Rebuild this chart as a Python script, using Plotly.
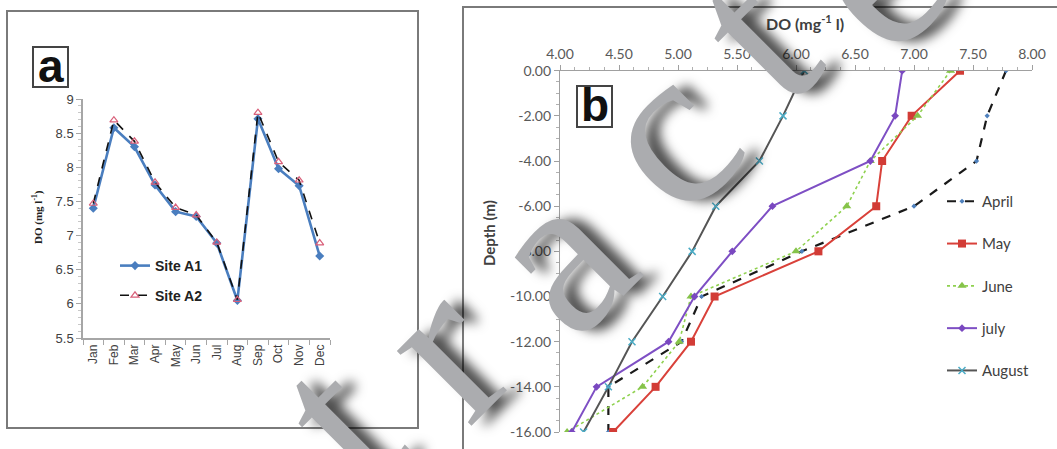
import plotly.graph_objects as go

W, H = 1057, 449

# ---- panel (a): monthly dissolved oxygen at two sites ----
months = ["Jan", "Feb", "Mar", "Apr", "May", "Jun",
          "Jul", "Aug", "Sep", "Oct", "Nov", "Dec"]
site_a1 = [7.40, 8.58, 8.30, 7.74, 7.35, 7.28, 6.89, 6.05, 8.71, 7.98, 7.73, 6.70]
site_a2 = [7.47, 8.69, 8.38, 7.78, 7.41, 7.30, 6.90, 6.06, 8.80, 8.08, 7.81, 6.89]

# ---- panel (b): DO depth profiles by month ----
depth = [0, -2, -4, -6, -8, -10, -12, -14, -16]
do_april = [7.78, 7.62, 7.53, 7.00, 6.05, 5.20, 5.03, 4.41, 4.41]
do_may = [7.39, 6.98, 6.73, 6.68, 6.19, 5.31, 5.11, 4.81, 4.45]
do_june = [7.31, 7.03, 6.63, 6.43, 6.00, 5.11, 5.01, 4.70, 4.06]
do_july = [6.90, 6.84, 6.63, 5.80, 5.46, 5.14, 4.92, 4.31, 4.10]
do_august = [6.07, 5.89, 5.69, 5.32, 5.12, 4.87, 4.61, 4.41, 4.20]

a_yticks = [5.5, 6, 6.5, 7, 7.5, 8, 8.5, 9]
a_yticklabels = ["5.5", "6", "6.5", "7", "7.5", "8", "8.5", "9"]
b_xticks = [4.0, 4.5, 5.0, 5.5, 6.0, 6.5, 7.0, 7.5, 8.0]
b_xticklabels = ["4.00", "4.50", "5.00", "5.50", "6.00", "6.50", "7.00", "7.50", "8.00"]
b_yticks = [0, -2, -4, -6, -8, -10, -12, -14, -16]
b_yticklabels = ["0.00", "-2.00", "-4.00", "-6.00", "-8.00",
                 "-10.00", "-12.00", "-14.00", "-16.00"]

watermark = "Retracted"


def fx(px):
    """pixel column -> paper fraction"""
    return px / W


def fy(py):
    """pixel row -> paper fraction"""
    return 1 - py / H


NARROW = "Liberation Sans Narrow, Arial Narrow, Liberation Sans, Arial"
SANS_B = "Lato, Open Sans, Liberation Sans"

fig = go.Figure()

# panel (a) traces
fig.add_trace(go.Scatter(
    x=months, y=site_a1, name="Site A1", mode="lines+markers",
    line=dict(color="#4a7ebf", width=2.6),
    marker=dict(symbol="diamond", size=7, color="#4a7ebf"),
    xaxis="x", yaxis="y", legend="legend", legendgroup="a1"))
fig.add_trace(go.Scatter(
    x=months, y=site_a2, name="Site A2", mode="lines+markers",
    line=dict(color="#111111", width=1.6, dash="dash"),
    marker=dict(symbol="triangle-up-open", size=7, color="#d9607a",
                line=dict(width=1.2)),
    xaxis="x", yaxis="y", legend="legend", legendgroup="a2"))

# panel (b) traces
profiles = [
    ("April", do_april, dict(color="#1a1a1a", width=2.2, dash="dash"),
     dict(symbol="diamond", size=4, color="#4f81bd")),
    ("May", do_may, dict(color="#d9413a", width=2),
     dict(symbol="square", size=8, color="#d23c36")),
    ("June", do_june, dict(color="#8fd14f", width=1.6, dash="dot"),
     dict(symbol="triangle-up", size=8, color="#86c34a")),
    ("july", do_july, dict(color="#7e4fc4", width=2),
     dict(symbol="diamond", size=6, color="#7a48c0")),
    ("August", do_august, dict(color="#555555", width=2),
     dict(symbol="x-thin", size=7, color="#4bacc6", line=dict(width=1.5, color="#4bacc6"))),
]
for name, vals, ln, mk in profiles:
    fig.add_trace(go.Scatter(
        x=vals, y=depth, name=name, mode="lines+markers",
        line=ln, marker=mk, xaxis="x2", yaxis="y2",
        legend="legend2", legendgroup=name))

axis_col = "#a6a6a6"
fig.update_layout(
    width=W, height=H,
    margin=dict(l=0, r=0, t=0, b=0, pad=0, autoexpand=False),
    paper_bgcolor="white", plot_bgcolor="white",
    showlegend=True,
    xaxis=dict(
        domain=[fx(83), fx(330)], anchor="y", type="category", automargin=False,
        categoryorder="array", categoryarray=months, range=[-0.5, 11.5],
        tickson="boundaries", ticks="outside", ticklen=5, tickcolor=axis_col,
        showline=True, linecolor=axis_col, linewidth=1.5,
        showgrid=False, zeroline=False, tickangle=-90,
        tickfont=dict(family=NARROW, size=12, color="#404040")),
    yaxis=dict(
        domain=[fy(338), fy(99)], anchor="x", range=[5.5, 9], automargin=False,
        tickvals=a_yticks, ticktext=a_yticklabels,
        ticks="outside", ticklen=5, tickcolor=axis_col,
        minor=dict(dtick=0.1, ticks="outside", ticklen=3, tickcolor="#c8c8c8"),
        showline=True, linecolor=axis_col, linewidth=1.5,
        showgrid=False, zeroline=False,
        tickfont=dict(family=NARROW, size=13, color="#404040")),
    xaxis2=dict(
        domain=[fx(560), fx(1032)], anchor="y2", side="top", range=[4, 8],
        automargin=False,
        tickvals=b_xticks, ticktext=b_xticklabels,
        ticks="outside", ticklen=5, tickcolor="#a0a0a0",
        minor=dict(dtick=0.125, ticks="outside", ticklen=3, tickcolor="#b0b0b0"),
        showline=True, linecolor="#a0a0a0", linewidth=1.2,
        showgrid=False, zeroline=False,
        tickfont=dict(family=SANS_B, size=14, color="#595959")),
    yaxis2=dict(
        domain=[fy(432), fy(70.7)], anchor="x2", range=[-16, 0],
        automargin=False,
        tickvals=b_yticks, ticktext=b_yticklabels,
        ticks="outside", ticklen=5, tickcolor="#a0a0a0",
        minor=dict(dtick=0.5, ticks="outside", ticklen=3, tickcolor="#b0b0b0"),
        showline=True, linecolor="#a0a0a0", linewidth=1.2,
        showgrid=False, zeroline=False,
        tickfont=dict(family=SANS_B, size=14, color="#595959")),
    legend=dict(
        x=fx(115), y=fy(250), xanchor="left", yanchor="top",
        bgcolor="rgba(0,0,0,0)", tracegroupgap=8.5, itemwidth=30,
        font=dict(family=NARROW, size=14, color="#222222", weight="bold")),
    legend2=dict(
        x=fx(942), y=fy(185), xanchor="left", yanchor="top",
        bgcolor="rgba(0,0,0,0)", tracegroupgap=19.8, itemwidth=30,
        font=dict(family=SANS_B, size=15, color="#404040")),
)

# panel frames and label boxes
shapes = [
    dict(type="rect", xref="paper", yref="paper",
         x0=fx(7), x1=fx(418), y0=fy(428), y1=fy(11),
         line=dict(color="#7a7a7a", width=2)),
    dict(type="rect", xref="paper", yref="paper",
         x0=fx(463), x1=fx(1070), y0=fy(460), y1=fy(7),
         line=dict(color="#7a7a7a", width=2)),
    dict(type="rect", xref="paper", yref="paper",
         x0=fx(33), x1=fx(68), y0=fy(87), y1=fy(47),
         line=dict(color="#444444", width=2), fillcolor="white"),
    dict(type="rect", xref="paper", yref="paper",
         x0=fx(577), x1=fx(612), y0=fy(127), y1=fy(86),
         line=dict(color="#444444", width=2), fillcolor="white"),
]
fig.update_layout(shapes=shapes)

ann = [
    dict(text="<b>a</b>", x=fx(51), y=fy(66), xref="paper", yref="paper",
         showarrow=False, xanchor="center", yanchor="middle",
         font=dict(family="Liberation Sans, Arial", size=46, color="#111111")),
    dict(text="<b>b</b>", x=fx(595), y=fy(105), xref="paper", yref="paper",
         showarrow=False, xanchor="center", yanchor="middle",
         font=dict(family="Liberation Sans, Arial", size=46, color="#111111")),
    dict(text="<b>DO (mg l<sup>-1</sup>)</b>", x=fx(37), y=fy(217),
         xref="paper", yref="paper", showarrow=False, textangle=-90,
         xanchor="center", yanchor="middle",
         font=dict(family="Liberation Serif, Times New Roman", size=11, color="#222222")),
    dict(text="<b>DO (mg<sup>-1</sup> l)</b>", x=fx(805), y=fy(23),
         xref="paper", yref="paper", showarrow=False,
         xanchor="center", yanchor="middle",
         font=dict(family=SANS_B, size=16, color="#404040")),
    dict(text="<b>Depth (m)</b>", x=fx(489), y=fy(233),
         xref="paper", yref="paper", showarrow=False, textangle=-90,
         xanchor="center", yanchor="middle",
         font=dict(family=SANS_B, size=15, color="#404040")),
]

# diagonal stamp across both panels, one glyph at a time
stamp_centres = [(140, 620), (236, 522), (336, 419), (440, 347), (555, 254),
                 (663, 133), (752, 34), (870, -28), (1000, -150)]
for ch, (cx, cy) in zip(watermark, stamp_centres):
    ann.append(dict(
        text=ch, x=fx(cx), y=fy(cy), xref="paper", yref="paper",
        showarrow=False, xanchor="center", yanchor="middle", textangle=-45,
        font=dict(family="Liberation Serif, Times New Roman", size=230,
                  color="#abacaf", shadow="10px 10px 12px rgba(0,0,0,0.7)")))
fig.update_layout(annotations=ann)

fig.write_html("out.html")
